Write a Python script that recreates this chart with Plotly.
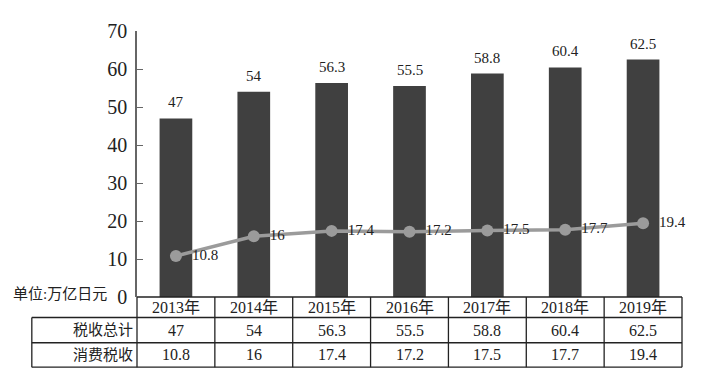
import plotly.graph_objects as go

years = ["2013年", "2014年", "2015年", "2016年", "2017年", "2018年", "2019年"]
total_tax = [47, 54, 56.3, 55.5, 58.8, 60.4, 62.5]
consumption_tax = [10.8, 16, 17.4, 17.2, 17.5, 17.7, 19.4]
row_names = ["税收总计", "消费税收"]
unit_label = "单位:万亿日元"

FONT = "Liberation Serif, Times New Roman, Noto Sans CJK SC, serif"
INK = "#222222"
NB = "\u00a0"

fig = go.Figure()
fig.add_trace(go.Bar(
    x=years, y=total_tax, width=0.42,
    marker=dict(color="#404040", line=dict(width=0)),
    showlegend=False,
))
fig.add_trace(go.Scatter(
    x=years, y=consumption_tax, mode="lines+markers+text",
    line=dict(color="#9b9b9b", width=3.5),
    marker=dict(color="#9b9b9b", size=12),
    text=[NB * 2 + str(v) for v in consumption_tax], textposition="middle right",
    textfont=dict(family=FONT, size=15, color=INK),
    cliponaxis=False, showlegend=False,
))

annotations = []
# bar value labels
for yr, v in zip(years, total_tax):
    annotations.append(dict(x=yr, xref="x", y=v, yref="y", text=str(v), showarrow=False,
                            xanchor="center", yanchor="bottom", yshift=6,
                            font=dict(family=FONT, size=15, color=INK)))

# table geometry (paper coords)
n = len(years)
y_rows = [0, -0.077, -0.172, -0.264]
left_col = -0.193
shapes = []
line_style = dict(color="#222222", width=1.3)
for k in range(n + 1):
    shapes.append(dict(type="line", xref="paper", yref="paper",
                       x0=k / n, x1=k / n, y0=0, y1=y_rows[-1], line=line_style))
shapes.append(dict(type="line", xref="paper", yref="paper",
                   x0=left_col, x1=left_col, y0=y_rows[1], y1=y_rows[-1], line=line_style))
for yy in y_rows[1:]:
    shapes.append(dict(type="line", xref="paper", yref="paper",
                       x0=left_col, x1=1, y0=yy, y1=yy, line=line_style))
shapes.append(dict(type="line", xref="paper", yref="paper",
                   x0=0, x1=1, y0=0, y1=0, line=line_style))

row_centers = [(y_rows[i] + y_rows[i + 1]) / 2 for i in range(3)]
rows = [years, [str(v) for v in total_tax], [str(v) for v in consumption_tax]]
for r, vals in enumerate(rows):
    for yr, txt in zip(years, vals):
        annotations.append(dict(x=yr, xref="x", y=row_centers[r], yref="paper",
                                text=txt, showarrow=False, xanchor="center", yanchor="middle",
                                font=dict(family=FONT, size=16, color=INK)))
for r, name in enumerate(row_names):
    annotations.append(dict(x=-0.004, xref="paper", y=row_centers[r + 1], yref="paper",
                            text=name, showarrow=False, xanchor="right", yanchor="middle",
                            font=dict(family=FONT, size=15, color=INK)))
annotations.append(dict(x=-0.141, xref="paper", y=0.01, yref="paper", text=unit_label,
                        showarrow=False, xanchor="center", yanchor="middle",
                        font=dict(family=FONT, size=15, color=INK)))

# page body has an 8px default margin: shift figure accordingly
fig.update_layout(
    width=698, height=377,
    margin=dict(l=129, r=24, t=16, b=88),
    paper_bgcolor="white", plot_bgcolor="white",
    font=dict(family=FONT, color=INK),
    shapes=shapes, annotations=annotations,
    xaxis=dict(type="category", range=[-0.5, n - 0.5], showticklabels=False,
               ticks="", showline=False, showgrid=False, zeroline=False, fixedrange=True),
    yaxis=dict(range=[0, 70], dtick=10, ticks="inside", ticklen=6, tickcolor="#666666",
               showline=True, linecolor="#666666", linewidth=1.5, showgrid=False,
               zeroline=False, tickfont=dict(family=FONT, size=20, color=INK),
               ticklabelstandoff=4, fixedrange=True),
    bargap=0.58,
)

fig.write_html("out.html")
